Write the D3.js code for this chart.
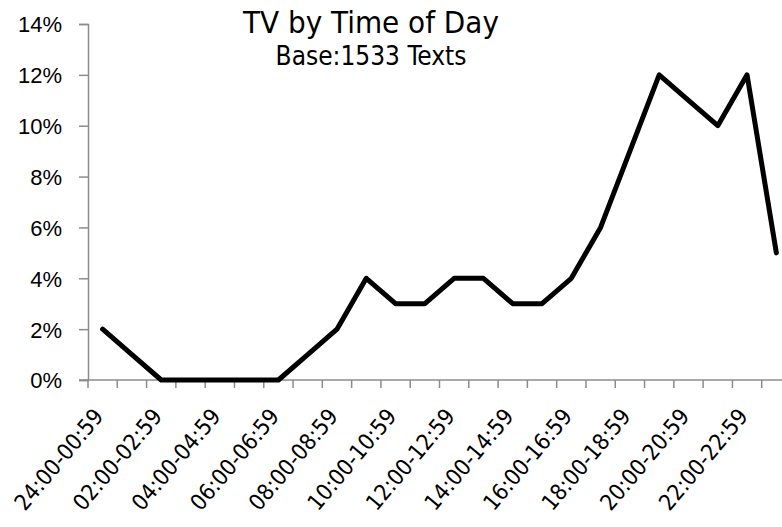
<!DOCTYPE html>
<html>
<head>
<meta charset="utf-8">
<script src="https://cdn.jsdelivr.net/npm/d3@7"></script>
<style>
  html, body { margin: 0; padding: 0; background: #fff; }
  svg { display: block; font-family: Tahoma, "DejaVu Sans Condensed", "DejaVu Sans", sans-serif; }
</style>
</head>
<body>
<svg id="chart" width="782" height="527"></svg>
<script>
// Hourly time slots
const hours = [
  "24:00-00:59", "01:00-01:59", "02:00-02:59", "03:00-03:59",
  "04:00-04:59", "05:00-05:59", "06:00-06:59", "07:00-07:59",
  "08:00-08:59", "09:00-09:59", "10:00-10:59", "11:00-11:59",
  "12:00-12:59", "13:00-13:59", "14:00-14:59", "15:00-15:59",
  "16:00-16:59", "17:00-17:59", "18:00-18:59", "19:00-19:59",
  "20:00-20:59", "21:00-21:59", "22:00-22:59", "23:00-23:59"
];
// Share of TV mentions per slot (%)
const share = [2, 1, 0, 0, 0, 0, 0, 1, 2, 4, 3, 3, 4, 4, 3, 3, 4, 6, 9, 12, 11, 10, 12, 5];
const yTicks = [0, 2, 4, 6, 8, 10, 12, 14];
const titleText = "TV by Time of Day";
const subtitleText = "Base:1533 Texts";

const svg = d3.select("#chart");
const plotLeft = 88, plotRight = 791, plotTop = 24, plotBottom = 380;

const x = d3.scaleBand().domain(hours).range([plotLeft, plotRight]).paddingInner(0).paddingOuter(0);
const y = d3.scaleLinear().domain([0, 14]).range([plotBottom, plotTop]);

const axisColor = "#8c8c8c";

// Y axis
const yAxis = svg.append("g")
  .attr("transform", `translate(${plotLeft},0)`)
  .call(d3.axisLeft(y).tickValues(yTicks).tickFormat(d => d + "%").tickSize(9).tickPadding(17));
yAxis.select(".domain").attr("stroke", axisColor).attr("stroke-width", 1.5);
yAxis.selectAll(".tick line").attr("stroke", axisColor).attr("stroke-width", 1.5);
yAxis.selectAll(".tick text").attr("fill", "#000").style("font-size", "22px").attr("dy", "0.36em");

// X axis: tick marks on band edges, labels on every other slot
const xAxisG = svg.append("g").attr("transform", `translate(0,${plotBottom})`);
xAxisG.append("line")
  .attr("x1", plotLeft - 9).attr("x2", plotRight)
  .attr("stroke", axisColor).attr("stroke-width", 1.5);
xAxisG.selectAll("line.tk")
  .data(hours)
  .join("line")
  .attr("class", "tk")
  .attr("x1", d => x(d)).attr("x2", d => x(d))
  .attr("y1", 0).attr("y2", 8)
  .attr("stroke", axisColor).attr("stroke-width", 1.5);
xAxisG.selectAll("text.lbl")
  .data(hours.filter((d, i) => i % 2 === 0))
  .join("text")
  .attr("class", "lbl")
  .attr("text-anchor", "end")
  .attr("transform", d => `translate(${x(d) + x.bandwidth() / 2 + 2},${37}) rotate(-50)`)
  .style("font-size", "22.5px")
  .attr("fill", "#000")
  .text(d => d);

// Series line
const line = d3.line()
  .x((d, i) => x(hours[i]) + x.bandwidth() / 2)
  .y(d => y(d));
svg.append("path")
  .datum(share)
  .attr("d", line)
  .attr("fill", "none")
  .attr("stroke", "#000")
  .attr("stroke-width", 5)
  .attr("stroke-linejoin", "round")
  .attr("stroke-linecap", "round");

// Title block
svg.append("text")
  .attr("x", 371).attr("y", 33)
  .attr("text-anchor", "middle")
  .style("font-size", "31px")
  .text(titleText);
svg.append("text")
  .attr("x", 371).attr("y", 65)
  .attr("text-anchor", "middle")
  .style("font-size", "26px")
  .text(subtitleText);
</script>
</body>
</html>
